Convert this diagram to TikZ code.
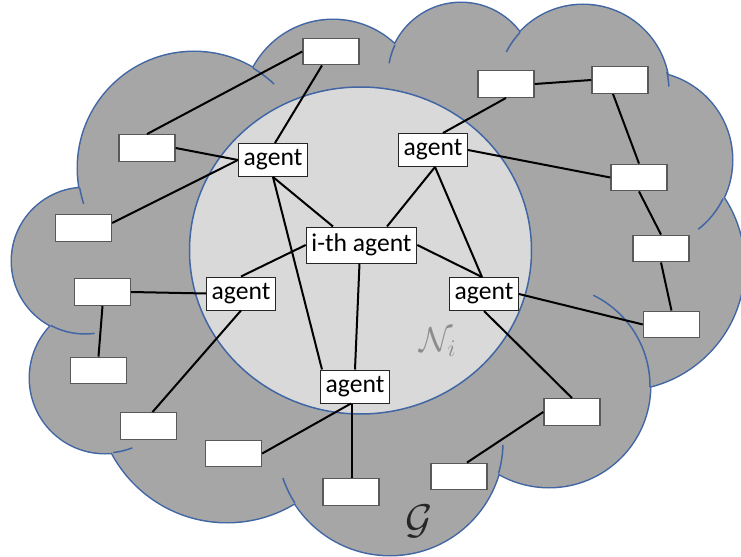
\documentclass[tikz,border=0pt]{standalone}
\usepackage{fontspec}
\setmainfont{Carlito}
\definecolor{cloudgray}{RGB}{166,166,166}
\definecolor{innergray}{RGB}{217,217,217}
\definecolor{cloudblue}{RGB}{65,102,163}
\definecolor{boxgray}{RGB}{89,89,89}
\definecolor{labelgray}{RGB}{140,140,140}
\tikzset{
  blank/.style={draw=boxgray, line width=0.7pt, fill=white, minimum width=28pt, minimum height=13.25pt, inner sep=0pt},
  agentbox/.style={draw=black!85, line width=0.5pt, fill=white, font=\fontsize{12.8}{15}\selectfont, inner xsep=2.6pt, inner ysep=0pt, minimum height=16.5pt},
  link/.style={line width=1pt, black},
  crease/.style={cloudblue, line width=0.75pt},
}
\begin{document}
\begin{tikzpicture}[x=0.5pt,y=-0.5pt]
\useasboundingbox (0,0) rectangle (741,557);
% cloud outline (outer half of stroke stays visible)
\draw[cloudblue, line width=1.5pt]
  (85,261) circle[radius=73] (194,168) circle[radius=116] (333,110) circle[radius=90]
  (461,76) circle[radius=73] (583,91) circle[radius=86] (644,160) circle[radius=88]
  (620,266) circle[radius=124] (549,386) circle[radius=101] (390,442) circle[radius=113]
  (227,392) circle[radius=130] (105,378) circle[radius=75];
\fill[cloudgray]
  (85,261) circle[radius=73] (194,168) circle[radius=116] (333,110) circle[radius=90]
  (461,76) circle[radius=73] (583,91) circle[radius=86] (644,160) circle[radius=88]
  (620,266) circle[radius=124] (549,386) circle[radius=101] (390,442) circle[radius=113]
  (227,392) circle[radius=130] (105,378) circle[radius=75];
\fill[cloudgray] (85,261) -- (194,168) -- (333,110) -- (461,76) -- (583,91) -- (644,160)
  -- (620,266) -- (549,386) -- (390,442) -- (227,392) -- (105,378) -- cycle;
% creases
\draw[crease] (194,168) ++(162:116) arc[start angle=162, end angle=170, radius=116];
\draw[crease] (194,168) ++(300.5:116) arc[start angle=300.5, end angle=313.6, radius=116];
\draw[crease] (461,76) ++(190:73) arc[start angle=190, end angle=205, radius=73];
\draw[crease] (583,91) ++(207:86) arc[start angle=207, end angle=223, radius=86];
\draw[crease] (583,91) ++(347:86) arc[start angle=347, end angle=357, radius=86];
\draw[crease] (644,160) ++(26:88) arc[start angle=26, end angle=52, radius=88];
\draw[crease] (549,386) ++(-64:101) arc[start angle=-64, end angle=0.6, radius=101];
\draw[crease] (390,442) ++(1.5:113) arc[start angle=1.5, end angle=16.2, radius=113];
\draw[crease] (390,442) ++(147.3:113) arc[start angle=147.3, end angle=161.4, radius=113];
\draw[crease] (105,378) ++(68.6:75) arc[start angle=68.6, end angle=83.8, radius=75];
\draw[crease] (85,261) ++(82.4:73) arc[start angle=82.4, end angle=117.9, radius=73];
% neighbourhood
\draw[cloudblue, line width=0.75pt, fill=innergray] (360.5,250.5) ellipse[x radius=171, y radius=163.5];
\node[text=labelgray, font=\fontsize{17}{20}\selectfont] (Ni) at (438,342) {$\mathcal{N}_i$};
\node[text=black!85, font=\fontsize{20}{24}\selectfont] (G) at (419,521) {$\mathcal{G}$};
% boxes
\node[blank] (B1) at (331,51.5) {};
\node[blank] (B2) at (147,148) {};
\node[blank] (B3) at (83.5,228) {};
\node[blank] (B4) at (506,84) {};
\node[blank] (B5) at (620,80) {};
\node[blank] (B6) at (639,177.5) {};
\node[blank] (B7) at (661,248.5) {};
\node[blank] (B8) at (671.5,324.5) {};
\node[blank] (B9) at (572,412) {};
\node[blank] (B10) at (459,476.5) {};
\node[blank] (B11) at (102.5,292) {};
\node[blank] (B12) at (98.5,370.5) {};
\node[blank] (B13) at (148.5,426) {};
\node[blank] (B14) at (233.5,453.5) {};
\node[blank] (B15) at (351,492) {};
\node[agentbox] (A1) at (273,160) {agent};
\node[agentbox] (A2) at (433,150) {agent};
\node[agentbox, minimum height=18pt] (ith) at (361.5,245) {i-th agent};
\node[agentbox] (A3) at (484,294) {agent};
\node[agentbox] (A4) at (241,293.5) {agent};
\node[agentbox] (A5) at (355,386.5) {agent};
% links
\draw[link] (B1.west) -- (B2.north);
\draw[link] ([xshift=-4.5pt]B1.south) -- ([xshift=1pt]A1.north);
\draw[link] (B2.east) -- (A1.west);
\draw[link] ([yshift=2.5pt]B3.east) -- (A1.west);
\draw[link] (A1.south) -- ([xshift=-14.25pt]ith.north);
\draw[link] (A1.south) -- ([xshift=1pt]A5.north west);
\draw[link] (ith.west) -- (A4.north);
\draw[link] ([xshift=-1pt]ith.south) -- (A5.north);
\draw[link] (ith.east) -- ([xshift=-1pt]A3.north);
\draw[link] ([xshift=12.75pt]ith.north) -- ([xshift=1pt]A2.south);
\draw[link] ([xshift=1pt]A2.south) -- ([xshift=-1pt]A3.north);
\draw[link] ([xshift=5pt]A2.north) -- (B4.south);
\draw[link] (A2.east) -- (B6.west);
\draw[link] (B4.east) -- (B5.west);
\draw[link] ([xshift=-3.5pt]B5.south) -- (B6.north);
\draw[link] (B6.south) -- (B7.north);
\draw[link] (B7.south) -- (B8.north);
\draw[link] (A3.east) -- (B8.west);
\draw[link] (A3.south) -- (B9.north);
\draw[link] (B9.west) -- ([xshift=4pt]B10.north);
\draw[link] (B11.east) -- (A4.west);
\draw[link] (B11.south) -- (B12.north);
\draw[link] (A4.south) -- ([xshift=2pt]B13.north);
\draw[link] ([xshift=-2pt]A5.south) -- (B14.east);
\draw[link] ([xshift=-1.5pt]A5.south) -- ([xshift=0.5pt]B15.north);
\end{tikzpicture}
\end{document}
